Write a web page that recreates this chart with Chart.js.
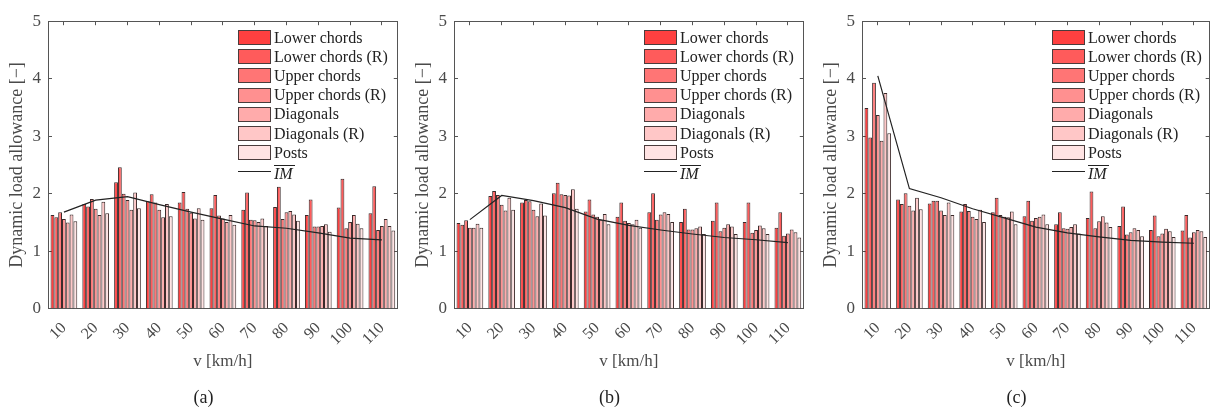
<!DOCTYPE html>
<html>
<head>
<meta charset="utf-8">
<script src="https://cdn.jsdelivr.net/npm/chart.js@4.4.0/dist/chart.umd.min.js"></script>
<style>
  body { margin: 0; width: 1223px; height: 412px; background: #fff; overflow: hidden; position: relative; font-family: 'Liberation Serif', serif; }
  .panel { position: absolute; top: 0; height: 412px; }
  .legend { position: absolute; top: 28px; left: 238px; font-size: 16px; color: #222; line-height: 1; }
  .row { height: 19.2px; display: flex; align-items: center; white-space: nowrap; }
  .sw { width: 31px; height: 13px; border: 1px solid #4a3c3c; margin-right: 3px; flex: none; }
  .ln { width: 33px; height: 0; border-top: 1px solid #222; margin-right: 3px; flex: none; }
  .im { font-style: italic; display: inline-block; border-top: 1px solid #222; padding: 1px 2px 0 0; line-height: 14px; margin-top: 2px; }
</style>
</head>
<body>
<script>
// velocities on the x axis
const speeds = ['10', '20', '30', '40', '50', '60', '70', '80', '90', '100', '110'];
const seriesNames = ['Lower chords', 'Lower chords (R)', 'Upper chords', 'Upper chords (R)', 'Diagonals', 'Diagonals (R)', 'Posts'];
const seriesColors = ['#ff4040', '#ff5b5b', '#ff7575', '#ff9090', '#ffabab', '#ffc7c7', '#ffe3e3'];

// panel (a)
const lowerA  = [1.63, 1.82, 2.20, 1.87, 1.85, 1.75, 1.72, 1.77, 1.63, 1.76, 1.66];
const lowerRA = [1.59, 1.78, 2.46, 1.99, 2.03, 1.98, 2.02, 2.12, 1.90, 2.26, 2.13];
const upperA  = [1.68, 1.91, 2.00, 1.85, 1.74, 1.62, 1.55, 1.56, 1.43, 1.40, 1.37];
const upperRA = [1.56, 1.74, 1.89, 1.72, 1.67, 1.57, 1.54, 1.68, 1.43, 1.51, 1.44];
const diagA   = [1.50, 1.63, 1.72, 1.59, 1.57, 1.51, 1.51, 1.70, 1.44, 1.63, 1.56];
const diagRA  = [1.64, 1.86, 2.02, 1.82, 1.75, 1.63, 1.57, 1.64, 1.47, 1.48, 1.44];
const postsA  = [1.52, 1.66, 1.75, 1.61, 1.55, 1.46, 1.44, 1.53, 1.34, 1.40, 1.36];
const imA     = [1.68, 1.89, 1.95, 1.81, 1.68, 1.56, 1.44, 1.40, 1.32, 1.23, 1.20];

// panel (b)
const lowerB  = [1.49, 1.96, 1.85, 2.01, 1.69, 1.60, 1.68, 1.51, 1.53, 1.51, 1.41];
const lowerRB = [1.46, 2.05, 1.89, 2.19, 1.90, 1.85, 2.01, 1.74, 1.85, 1.85, 1.68];
const upperB  = [1.54, 1.98, 1.87, 1.99, 1.64, 1.53, 1.55, 1.38, 1.35, 1.32, 1.27];
const upperRB = [1.41, 1.81, 1.72, 1.98, 1.60, 1.49, 1.64, 1.38, 1.41, 1.37, 1.31];
const diagB   = [1.41, 1.71, 1.61, 1.97, 1.55, 1.47, 1.68, 1.40, 1.47, 1.45, 1.38];
const diagRB  = [1.48, 1.93, 1.83, 2.08, 1.65, 1.55, 1.65, 1.43, 1.43, 1.40, 1.33];
const postsB  = [1.41, 1.72, 1.62, 1.74, 1.47, 1.41, 1.51, 1.30, 1.30, 1.30, 1.24];
const imB     = [1.55, 1.97, 1.88, 1.76, 1.56, 1.45, 1.37, 1.30, 1.24, 1.20, 1.15];

// panel (c)
const lowerC  = [3.49, 1.90, 1.83, 1.69, 1.68, 1.61, 1.47, 1.58, 1.44, 1.37, 1.36];
const lowerRC = [2.98, 1.82, 1.88, 1.82, 1.93, 1.88, 1.68, 2.04, 1.78, 1.62, 1.63];
const upperC  = [3.93, 2.01, 1.88, 1.70, 1.63, 1.53, 1.40, 1.40, 1.29, 1.26, 1.24];
const upperRC = [3.37, 1.79, 1.71, 1.60, 1.60, 1.58, 1.39, 1.52, 1.33, 1.31, 1.33];
const diagC   = [2.92, 1.71, 1.63, 1.56, 1.59, 1.60, 1.42, 1.61, 1.40, 1.39, 1.37];
const diagRC  = [3.75, 1.93, 1.85, 1.72, 1.69, 1.64, 1.47, 1.50, 1.37, 1.35, 1.35];
const postsC  = [3.05, 1.73, 1.63, 1.51, 1.47, 1.47, 1.31, 1.42, 1.26, 1.25, 1.25];
const imC     = [4.05, 2.09, 1.93, 1.74, 1.58, 1.42, 1.32, 1.25, 1.19, 1.16, 1.14];

const yTicks = [0, 1, 2, 3, 4, 5];

const serif = 'Liberation Serif';
const axisColor = '#555';
const labelColor = '#4a4a4a';

function buildLegend(panel) {
    const box = document.createElement('div');
    box.className = 'legend';
    seriesNames.forEach((name, i) => {
        const row = document.createElement('div');
        row.className = 'row';
        const sw = document.createElement('span');
        sw.className = 'sw';
        sw.style.background = seriesColors[i];
        row.appendChild(sw);
        row.appendChild(document.createTextNode(name));
        box.appendChild(row);
    });
    const row = document.createElement('div');
    row.className = 'row';
    const ln = document.createElement('span');
    ln.className = 'ln';
    row.appendChild(ln);
    const im = document.createElement('span');
    im.className = 'im';
    im.textContent = 'IM';
    row.appendChild(im);
    box.appendChild(row);
    panel.appendChild(box);
}

function makePanel(left, width, caption, series, im) {
    const panel = document.createElement('div');
    panel.className = 'panel';
    panel.style.left = left + 'px';
    panel.style.width = width + 'px';
    const canvas = document.createElement('canvas');
    canvas.width = width;
    canvas.height = 412;
    panel.appendChild(canvas);
    document.body.appendChild(panel);
    buildLegend(panel);

    const datasets = series.map((values, i) => ({
        type: 'bar',
        label: seriesNames[i],
        data: values,
        backgroundColor: seriesColors[i],
        borderColor: 'rgba(25,5,5,0.85)',
        borderWidth: 1,
        categoryPercentage: 0.84,
        barPercentage: 1.0,
        order: 1
    }));
    datasets.push({
        type: 'line',
        label: 'IM',
        data: im,
        borderColor: '#222',
        borderWidth: 1.2,
        pointRadius: 0,
        tension: 0,
        fill: false,
        order: 0
    });

    new Chart(canvas, {
        data: { labels: speeds, datasets: datasets },
        options: {
            responsive: false,
            animation: false,
            devicePixelRatio: 1,
            layout: { padding: { top: 15, right: 3, left: 0, bottom: 0 } },
            plugins: {
                legend: { display: false },
                tooltip: { enabled: false },
                title: {
                    display: true,
                    position: 'bottom',
                    text: caption,
                    color: '#222',
                    font: { family: serif, size: 18, weight: 'normal' },
                    padding: { top: 2, bottom: 3 }
                }
            },
            scales: {
                x: {
                    type: 'category',
                    position: 'bottom',
                    offset: true,
                    grid: { drawOnChartArea: false, offset: false, tickLength: -4, color: axisColor },
                    border: { color: axisColor, width: 1 },
                    ticks: {
                        minRotation: 45, maxRotation: 45, padding: 14,
                        color: labelColor,
                        font: { family: serif, size: 16 }
                    },
                    title: {
                        display: true,
                        text: 'v [km/h]',
                        color: labelColor,
                        font: { family: serif, size: 17 },
                        padding: { top: 0, bottom: 14 }
                    },
                    afterFit: s => { s.height = 76.6; }
                },
                x2: {
                    type: 'category',
                    position: 'top',
                    offset: true,
                    grid: { drawOnChartArea: false, offset: false, tickLength: -4, color: axisColor },
                    border: { color: axisColor, width: 1 },
                    ticks: { display: false },
                    afterFit: s => { s.height = 0; }
                },
                y: {
                    type: 'linear',
                    position: 'left',
                    min: 0,
                    max: 5,
                    afterBuildTicks: s => { s.ticks = yTicks.map(v => ({ value: v })); },
                    grid: { drawOnChartArea: false, tickLength: -4, color: axisColor },
                    border: { color: axisColor, width: 1 },
                    ticks: {
                        padding: 11,
                        color: labelColor,
                        font: { family: serif, size: 17 }
                    },
                    title: {
                        display: true,
                        text: 'Dynamic load allowance [\u2212]',
                        color: labelColor,
                        font: { family: serif, size: 18 },
                        padding: { top: 6, bottom: 0 }
                    },
                    afterFit: s => { s.width = 48; }
                },
                y2: {
                    type: 'linear',
                    position: 'right',
                    min: 0,
                    max: 5,
                    afterBuildTicks: s => { s.ticks = yTicks.map(v => ({ value: v })); },
                    grid: { drawOnChartArea: false, tickLength: -4, color: axisColor },
                    border: { color: axisColor, width: 1 },
                    ticks: { display: false },
                    afterFit: s => { s.width = 0; }
                }
            }
        }
    });
}

makePanel(0, 410, '(a)', [lowerA, lowerRA, upperA, upperRA, diagA, diagRA, postsA], imA);
makePanel(406, 410, '(b)', [lowerB, lowerRB, upperB, upperRB, diagB, diagRB, postsB], imB);
makePanel(814, 408, '(c)', [lowerC, lowerRC, upperC, upperRC, diagC, diagRC, postsC], imC);
</script>
</body>
</html>
